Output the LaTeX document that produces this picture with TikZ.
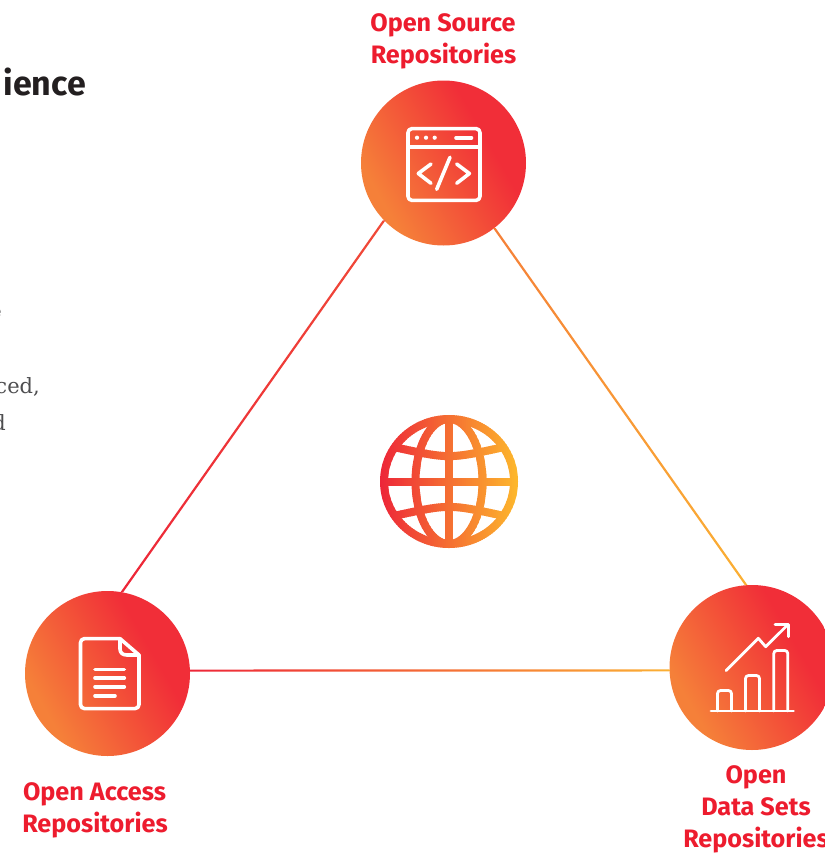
\documentclass[tikz,border=0pt]{standalone}
\usepackage{fontspec}
\setmainfont{Fira Sans}
\newfontfamily\bodyfont{DejaVu Serif}
\usetikzlibrary{calc}
\definecolor{gOrange}{HTML}{F58039}
\definecolor{gRed}{HTML}{F12E38}
\definecolor{lYellow}{HTML}{FBB034}
\definecolor{lRed}{HTML}{ED2638}
\definecolor{lMid}{HTML}{F04A38}
\definecolor{lOrange}{HTML}{F58038}
\definecolor{gYellow}{HTML}{FDB92C}
\definecolor{labelRed}{HTML}{ED1C2E}
\definecolor{headDark}{HTML}{231F20}
\definecolor{bodyGrey}{HTML}{4D4D4F}
\pgfdeclarehorizontalshading{circgrad}{100bp}{color(0bp)=(gOrange); color(28bp)=(gOrange); color(65bp)=(gRed); color(100bp)=(gRed)}
\tikzset{
  hub/.style={circle,draw=none,minimum size=165pt,inner sep=0pt,outer sep=0pt,shading=circgrad,shading angle=30},
  icon/.style={draw=white,line width=3.6pt,line cap=round,line join=round},
  thinicon/.style={draw=white,line width=2.8pt,line cap=round,line join=round},
  lab/.style={text=labelRed,font=\fontsize{25.2}{32}\selectfont\bfseries,align=center,inner sep=0pt},
  globeline/.style={line width=8pt,fill=none},
  bodytext/.style={text=bodyGrey,font=\bodyfont\fontsize{21}{24}\selectfont,inner sep=0pt,anchor=base east}
}
% a connector is a thin band between two named points, with a linear gradient along it
\newcommand{\steeplink}[4]{%
  \path[top color=#3,bottom color=#4] ($(#1)+(-1.35,0)$) -- ($(#1)+(1.35,0)$) -- ($(#2)+(1.35,0)$) -- ($(#2)+(-1.35,0)$) -- cycle;
}
\newcommand{\flatlink}[4]{%
  \path[left color=#3,right color=#4] ($(#1)+(0,-1.1)$) -- ($(#2)+(0,-1.1)$) -- ($(#2)+(0,1.1)$) -- ($(#1)+(0,1.1)$) -- cycle;
}
\newcommand{\globepaths}[1]{%
  \draw[globeline,#1] (449,481.5) ellipse [x radius=65,y radius=62.5];
  \draw[globeline,#1] (449,481.5) ellipse [x radius=33.5,y radius=62.5];
  \draw[globeline,#1] (449,419) -- (449,544);
  \draw[globeline,#1] (384,481.5) -- (514,481.5);
  \draw[globeline,#1] (396,447.5) .. controls (449,459) .. (502,447.5);
  \draw[globeline,#1] (396,515.5) .. controls (449,504) .. (502,515.5);
}
\begin{document}
\begin{tikzpicture}[x=1pt,y=-1pt]
\useasboundingbox (0,0) rectangle (825,855);
% hubs
\node[hub] (top) at (443.5,163) {};
\node[hub] (left) at (107.5,673.5) {};
\node[hub] (right) at (752,667.5) {};
% connector ends
\coordinate (tl) at (top.-136.7);
\coordinate (tr) at (top.-52.6);
\coordinate (lt) at (left.80);
\coordinate (lr) at (left.2);
\coordinate (rt) at (right.94);
\coordinate (rl) at (right.182);
\steeplink{tl}{lt}{lMid}{lRed}
\steeplink{tr}{rt}{lOrange}{lYellow}
\flatlink{lr}{rl}{lRed}{lYellow}
% globe
\foreach \i in {0,...,69}{%
  \pgfmathsetmacro\pct{100*\i/69}%
  \begin{scope}
    \clip (380+\i*2,410) rectangle (382.6+\i*2,553);
    \globepaths{draw={gYellow!\pct!lRed}}
  \end{scope}
}
% code window icon
\draw[icon,rounded corners=4pt] (408,128.6) rectangle (480,200.4);
\draw[icon] (408,146.7) -- (480,146.7);
\fill[white] (417,137.7) circle (2.1) (426,137.7) circle (2.1) (434.7,137.7) circle (2.1);
\draw[icon] (456,137.7) -- (471.5,137.7);
\draw[icon] (431,164) -- (418.3,173.5) -- (431,183.3);
\draw[icon] (456.7,164) -- (469.4,173.5) -- (456.7,183.3);
\draw[icon] (450,157.3) -- (436.7,189.3);
% document icon
\draw[icon,rounded corners=4pt] (120,638.6) -- (80.5,638.6) -- (80.5,708.6) -- (139,708.6) -- (139,655);
\draw[icon] (120,638.6) -- (139,655);
\draw[icon] (120,638.6) -- (120,649) .. controls (120,653) and (123,655) .. (127,655) -- (139,655);
\draw[icon] (95,669.3) -- (124.3,669.3);
\draw[icon] (95,678) -- (124.3,678);
\draw[icon] (95,686.7) -- (124.3,686.7);
\draw[icon] (95,695.7) -- (115,695.7);
% chart icon
\draw[thinicon] (711,711) -- (793.5,711);
\draw[thinicon,rounded corners=3pt] (717.5,711) -- (717.5,690.5) -- (731.5,690.5) -- (731.5,711);
\draw[thinicon,rounded corners=3pt] (745.5,711) -- (745.5,675.5) -- (759.5,675.5) -- (759.5,711);
\draw[thinicon,rounded corners=3pt] (773.8,711) -- (773.8,650.5) -- (787.8,650.5) -- (787.8,711);
\draw[thinicon] (726,670.7) -- (758.3,638.3) -- (765.7,646.7) -- (787.5,625);
\draw[thinicon] (775,624.5) -- (788.3,624.5) -- (788.3,636.7);
% labels
\node[lab,anchor=base] (ltop1) at (443,31) {Open Source};
\node[lab,anchor=base] (ltop2) at (443.5,63) {Repositories};
\node[lab,anchor=base] (lleft1) at (94.5,800) {Open Access};
\node[lab,anchor=base] (lleft2) at (95,832) {Repositories};
\node[lab,anchor=base] (lright1) at (756,783) {Open};
\node[lab,anchor=base] (lright2) at (756,815) {Data Sets};
\node[lab,anchor=base] (lright3) at (756,847) {Repositories};
% cropped body text at the left edge
\node[text=headDark,font=\fontsize{34}{38}\selectfont\bfseries,inner sep=0pt,anchor=base east] (head) at (86,95) {ience};
\node[bodytext] (b1) at (2,318) {e};
\node[bodytext] (b2) at (40,393) {ced,};
\node[bodytext] (b3) at (6,430) {d};
\end{tikzpicture}
\end{document}
